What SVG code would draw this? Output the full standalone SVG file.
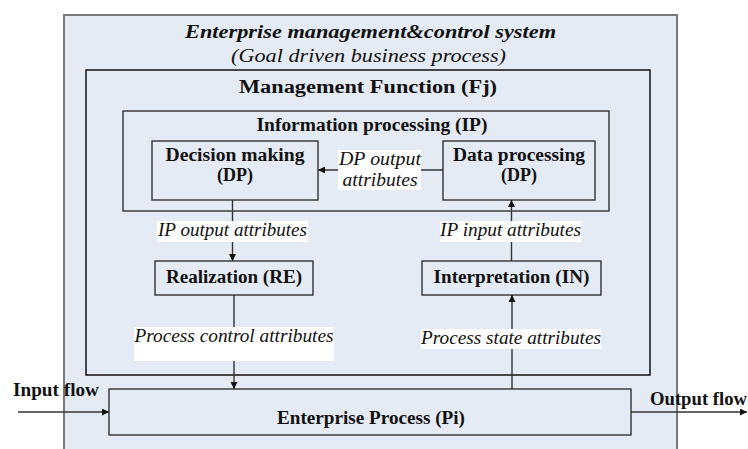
<svg xmlns="http://www.w3.org/2000/svg" width="748" height="449" viewBox="0 0 748 449">
<defs>
<marker id="ah" viewBox="0 0 10 10" refX="10" refY="5" markerWidth="7" markerHeight="7" markerUnits="userSpaceOnUse" orient="auto">
<path d="M0,0 L10,5 L0,10 z" fill="#111"/>
</marker>
</defs>
<style>
.box{fill:#e5ebf5;stroke:#333;stroke-width:1.4}
.bt{font-family:"Liberation Serif","Times New Roman",Times,serif;font-weight:bold;font-size:18px;fill:#111;text-anchor:middle}
.it{font-family:"Liberation Serif","Times New Roman",Times,serif;font-style:italic;font-size:19px;fill:#111;text-anchor:middle}
.st{text-anchor:start}
.lbl{fill:#fff;stroke:none}
.con{stroke:#333;stroke-width:1.4;fill:none}
</style>
<rect width="748" height="449" fill="#fff"/>
<g id="system">
<rect x="64" y="15" width="613" height="440" fill="#e5ebf5" stroke="#7a7a7a" stroke-width="2"/>
<text class="it" x="370.5" y="38" font-weight="bold" textLength="371" lengthAdjust="spacingAndGlyphs">Enterprise management&amp;control system</text>
<text class="it" x="368.5" y="62" textLength="275" lengthAdjust="spacingAndGlyphs">(Goal driven business process)</text>
</g>
<g id="management">
<rect x="86" y="70" width="564" height="305" fill="#e5ebf5" stroke="#111" stroke-width="1.5"/>
<text class="bt" x="368" y="93" font-size="19" textLength="258" lengthAdjust="spacingAndGlyphs">Management Function (Fj)</text>
</g>
<g id="ip">
<rect class="box" x="123" y="111" width="486" height="100"/>
<text class="bt" x="372" y="131" textLength="231" lengthAdjust="spacingAndGlyphs">Information processing (IP)</text>
</g>
<g id="decision">
<rect class="box" x="152" y="141" width="166" height="59"/>
<text class="bt" x="235" y="161" textLength="139" lengthAdjust="spacingAndGlyphs">Decision making</text>
<text class="bt" x="235" y="181">(DP)</text>
</g>
<g id="data">
<rect class="box" x="443" y="141" width="152" height="59"/>
<text class="bt" x="519" y="161" textLength="132" lengthAdjust="spacingAndGlyphs">Data processing</text>
<text class="bt" x="519" y="181">(DP)</text>
</g>
<g id="realization">
<rect class="box" x="155" y="261" width="158" height="34"/>
<text class="bt" x="234" y="283" textLength="136" lengthAdjust="spacingAndGlyphs">Realization (RE)</text>
</g>
<g id="interpretation">
<rect class="box" x="422" y="261" width="179" height="34"/>
<text class="bt" x="511.5" y="283" textLength="156" lengthAdjust="spacingAndGlyphs">Interpretation (IN)</text>
</g>
<g id="process">
<rect class="box" x="109" y="389" width="522" height="46"/>
<text class="bt" x="371" y="424" textLength="188" lengthAdjust="spacingAndGlyphs">Enterprise Process (Pi)</text>
</g>
<g id="connectors">
<line class="con" x1="443" y1="170" x2="318" y2="170" marker-end="url(#ah)"/>
<line class="con" x1="232.5" y1="200" x2="232.5" y2="261" marker-end="url(#ah)"/>
<line class="con" x1="511.5" y1="261" x2="511.5" y2="200" marker-end="url(#ah)"/>
<line class="con" x1="234" y1="295" x2="234" y2="389" marker-end="url(#ah)"/>
<line class="con" x1="512" y1="389" x2="512" y2="295" marker-end="url(#ah)"/>
<line class="con" x1="18" y1="412" x2="109" y2="412" marker-end="url(#ah)"/>
<line class="con" x1="631" y1="412" x2="747" y2="412" marker-end="url(#ah)"/>
<rect class="lbl" x="338" y="150" width="83" height="40"/>
<text class="it" x="380" y="165" textLength="82" lengthAdjust="spacingAndGlyphs">DP output</text>
<text class="it" x="380" y="186" textLength="75" lengthAdjust="spacingAndGlyphs">attributes</text>
<rect class="lbl" x="157" y="221" width="151" height="21"/>
<text class="it" x="232.5" y="236" textLength="149" lengthAdjust="spacingAndGlyphs">IP output attributes</text>
<rect class="lbl" x="440" y="221" width="141" height="21"/>
<text class="it" x="510.5" y="236" textLength="141" lengthAdjust="spacingAndGlyphs">IP input attributes</text>
<rect class="lbl" x="134" y="327" width="200" height="34"/>
<text class="it" x="234" y="342" textLength="199" lengthAdjust="spacingAndGlyphs">Process control attributes</text>
<rect class="lbl" x="421" y="329" width="180" height="20"/>
<text class="it" x="511" y="344" textLength="180" lengthAdjust="spacingAndGlyphs">Process state attributes</text>
<text class="bt st" x="13" y="396" textLength="86" lengthAdjust="spacingAndGlyphs">Input flow</text>
<text class="bt st" x="650" y="405" textLength="97" lengthAdjust="spacingAndGlyphs">Output flow</text>
</g>
</svg>
